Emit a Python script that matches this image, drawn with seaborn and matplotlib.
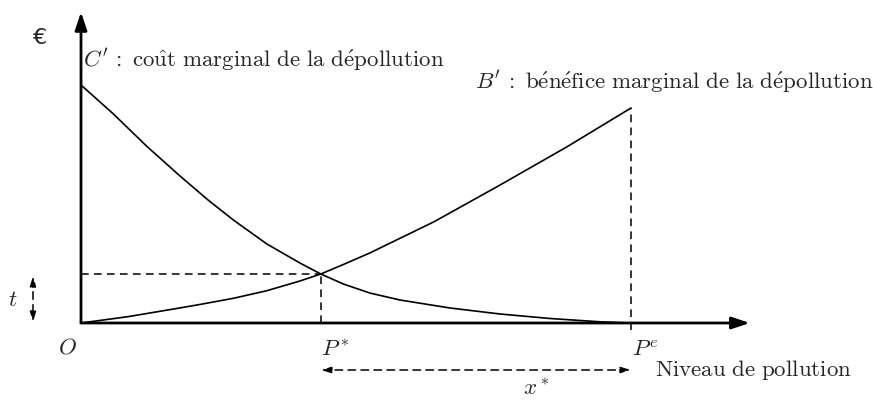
import matplotlib
matplotlib.use("Agg")
import matplotlib.pyplot as plt
import seaborn as sns
import pandas as pd

sns.set_theme(style="white")
plt.rcParams['mathtext.fontset'] = 'cm'
plt.rcParams['font.family'] = ['DejaVu Serif']

# curves (x: pollution level, Pe = 10)
cout_x = [0, 0.59, 1.19, 1.80, 2.31, 2.77, 3.38, 3.98, 4.36, 4.77, 5.25, 5.80, 6.71, 7.62, 8.53, 9.44, 10]
cout_y = [23.8, 20.9, 17.7, 14.7, 12.3, 10.3, 7.9, 6.0, 4.9, 3.9, 3.0, 2.3, 1.5, 0.9, 0.45, 0.12, 0]
benef_x = [0, 0.85, 1.76, 2.16, 2.77, 3.38, 3.98, 4.36, 4.77, 5.25, 6.41, 7.62, 8.83, 10]
benef_y = [0, 0.63, 1.47, 1.85, 2.47, 3.23, 4.2, 4.9, 5.85, 7.0, 10.1, 13.8, 17.6, 21.5]

p_star = 4.36
p_e = 10
taxe = 4.9
x_max = 12.16
y_max = 31.1

fig = plt.figure(figsize=(8.73, 4.01), dpi=100)
ax = fig.add_axes([0, 0, 1, 1])
ax.set_xlim(-81 / 55, 792 / 55)
ax.set_ylim(-7.8, 32.3)
ax.axis('off')

df_c = pd.DataFrame({'x': cout_x, 'y': cout_y})
df_b = pd.DataFrame({'x': benef_x, 'y': benef_y})
sns.lineplot(data=df_c, x='x', y='y', ax=ax, color='black', lw=1.2, sort=False)
sns.lineplot(data=df_b, x='x', y='y', ax=ax, color='black', lw=1.2, sort=False)

# axes with arrows
arr = dict(arrowstyle='-|>,head_length=0.9,head_width=0.3', color='black', lw=2, shrinkA=0, shrinkB=0)
ax.annotate('', xy=(x_max, 0), xytext=(0, 0), arrowprops=arr)
ax.annotate('', xy=(0, y_max), xytext=(0, 0), arrowprops=arr)

# dashed guides
dash = dict(color='black', lw=1.1, ls=(0, (5, 3.5)))
ax.plot([0, p_star], [taxe, taxe], **dash)
ax.plot([p_star, p_star], [0, taxe], **dash)
ax.plot([p_e, p_e], [-0.7, benef_y[-1]], **dash)

darr = dict(arrowstyle='<|-|>,head_length=0.5,head_width=0.15', color='black', lw=1.1,
            ls=(0, (5, 3.5)), shrinkA=0, shrinkB=0)
ax.annotate('', xy=(-0.873, 0.1), xytext=(-0.873, taxe - 0.2), arrowprops=darr)
ax.annotate('', xy=(p_star, -4.7), xytext=(p_e, -4.7), arrowprops=darr)

fs = 16.5
ax.text(-0.745, 28.5, '€', fontsize=16, family='DejaVu Sans', ha='center', va='center')
ax.text(0.036, 26.3, r"$C'\,\mathrm{:\ co\hat{u}t\ marginal\ de\ la\ d\acute{e}pollution}$",
        fontsize=fs, ha='left', va='center')
ax.text(7.16, 24.1, r"$B'\,\mathrm{:\ b\acute{e}n\acute{e}fice\ marginal\ de\ la\ d\acute{e}pollution}$",
        fontsize=fs, ha='left', va='center')
ax.text(-0.25, -2.5, r"$O$", fontsize=fs, ha='center', va='center')
ax.text(p_star, -2.7, r"$P^*$", fontsize=fs, ha='left', va='center')
ax.text(p_e + 0.02, -2.7, r"$P^e$", fontsize=fs, ha='left', va='center')
ax.text(10.44, -4.7, r"$\mathrm{Niveau\ de\ pollution}$", fontsize=fs, ha='left', va='center')
ax.text(8.27, -6.6, r"$x^*$", fontsize=fs, ha='center', va='center')
ax.text(-1.24, 2.3, r"$t$", fontsize=fs, ha='center', va='center')

fig.savefig('out.png', dpi=100)
